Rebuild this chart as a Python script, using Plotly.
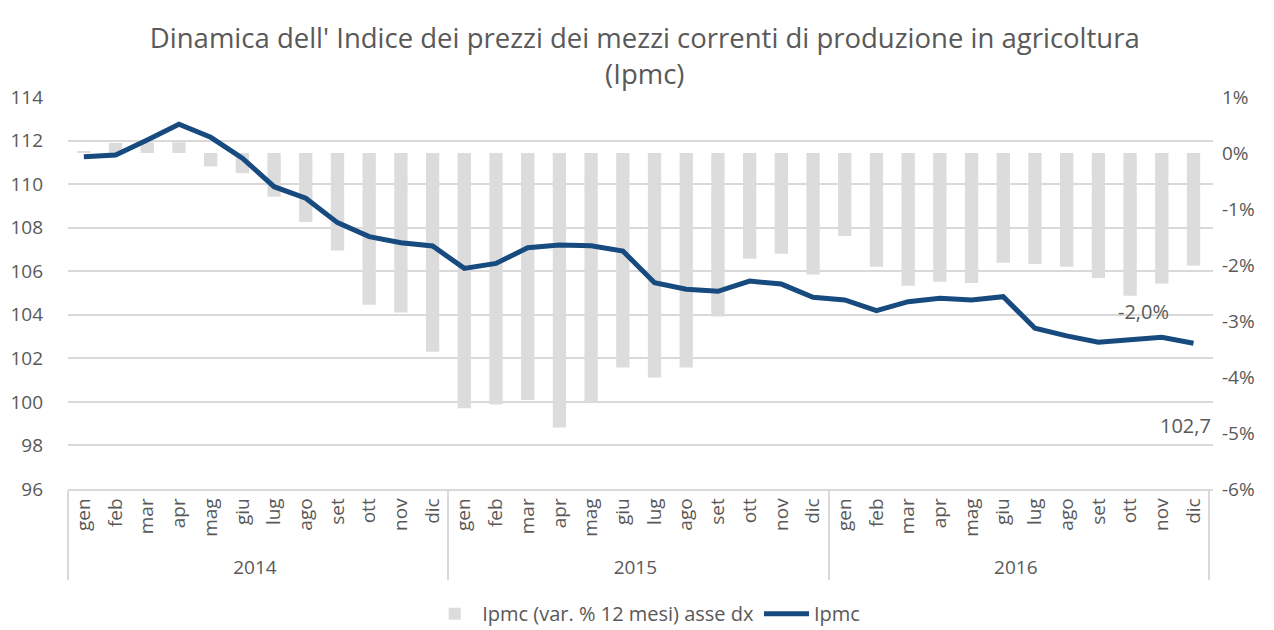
import plotly.graph_objects as go

# categorie asse x
mesi = ["gen", "feb", "mar", "apr", "mag", "giu", "lug", "ago", "set", "ott", "nov", "dic"] * 3
anni = ["2014"] * 12 + ["2015"] * 12 + ["2016"] * 12

# Ipmc (indice, asse sx)
ipmc = [
    111.26, 111.34, 112.03, 112.75, 112.15, 111.19, 109.88, 109.35, 108.23, 107.59, 107.31, 107.16,
    106.13, 106.36, 107.08, 107.20, 107.17, 106.93, 105.47, 105.17, 105.08, 105.55, 105.41, 104.80,
    104.68, 104.19, 104.60, 104.76, 104.68, 104.83, 103.38, 103.03, 102.74, 102.88, 102.97, 102.69,
]

# Ipmc var. % 12 mesi (asse dx)
var_12m = [
    0.0002, 0.0018, 0.0019, 0.0019, -0.0024, -0.0036, -0.0078, -0.0123, -0.0174, -0.0271, -0.0285, -0.0355,
    -0.0456, -0.0449, -0.0441, -0.0490, -0.0444, -0.0383, -0.0401, -0.0383, -0.0292, -0.0189, -0.0180, -0.0217,
    -0.0148, -0.0203, -0.0237, -0.0230, -0.0232, -0.0196, -0.0198, -0.0203, -0.0223, -0.0255, -0.0233, -0.0201,
]

pct_ticks = [0.01, 0, -0.01, -0.02, -0.03, -0.04, -0.05, -0.06]
pct_text = ["1%", "0%", "-1%", "-2%", "-3%", "-4%", "-5%", "-6%"]

grigio = "#595959"
blu = "#174a7e"

fig = go.Figure()

fig.add_trace(go.Bar(
    x=[anni, mesi],
    y=var_12m,
    name="Ipmc (var. % 12 mesi) asse dx",
    marker=dict(color="#dcdcdc", line=dict(width=0)),
    width=0.42,
    yaxis="y",
))

fig.add_trace(go.Scatter(
    x=[anni, mesi],
    y=ipmc,
    name="Ipmc",
    mode="lines",
    line=dict(color=blu, width=5),
    yaxis="y2",
))

# etichette dati (ultimo mese)
fig.add_annotation(x=35, y=var_12m[-1], xref="x", yref="y", text="-2,0%",
                   showarrow=False, xshift=-50, yshift=-46,
                   font=dict(size=20, color=grigio))
fig.add_annotation(x=35, y=ipmc[-1], xref="x", yref="y2", text="102,7",
                   showarrow=False, xshift=-8, yshift=-82,
                   font=dict(size=20, color=grigio))

# la pagina ha 8px di margine del body: figura più piccola di 8px
fig.update_layout(
    width=1266,
    height=622,
    margin=dict(l=60, r=61, t=89, b=141, autoexpand=False),
    paper_bgcolor="white",
    plot_bgcolor="white",
    font=dict(family="Open Sans, sans-serif", color=grigio, size=19),
    title=dict(
        text="Dinamica dell' Indice dei prezzi dei mezzi correnti di produzione in agricoltura<br>(Ipmc)",
        x=0.503, xanchor="center",
        y=0.935, yanchor="middle", yref="container",
        font=dict(size=27.5, color=grigio),
    ),
    showlegend=True,
    legend=dict(
        orientation="h",
        x=0.505, xanchor="center",
        y=-0.318, yanchor="middle",
        font=dict(size=20, color=grigio),
        itemwidth=45,
        traceorder="normal",
    ),
    xaxis=dict(
        type="multicategory",
        tickangle=-90,
        showdividers=True,
        dividercolor="#d9d9d9",
        dividerwidth=1.5,
        showline=True,
        linecolor="#d9d9d9",
        linewidth=1.5,
        ticks="",
        showgrid=False,
        automargin=False,
        tickfont=dict(size=19, color=grigio),
    ),
    yaxis=dict(
        side="right",
        range=[-0.06, 0.01],
        tickvals=pct_ticks,
        ticktext=pct_text,
        showgrid=False,
        zeroline=False,
        ticks="",
        automargin=False,
        ticklabelstandoff=8,
        tickfont=dict(size=19, color=grigio),
    ),
    yaxis2=dict(
        side="left",
        overlaying="y",
        range=[96, 114],
        dtick=2,
        showgrid=True,
        gridcolor="#d9d9d9",
        gridwidth=1.5,
        zeroline=False,
        ticks="",
        automargin=False,
        ticklabelstandoff=24,
        tickfont=dict(size=19, color=grigio),
    ),
)

fig.write_html("out.html")
